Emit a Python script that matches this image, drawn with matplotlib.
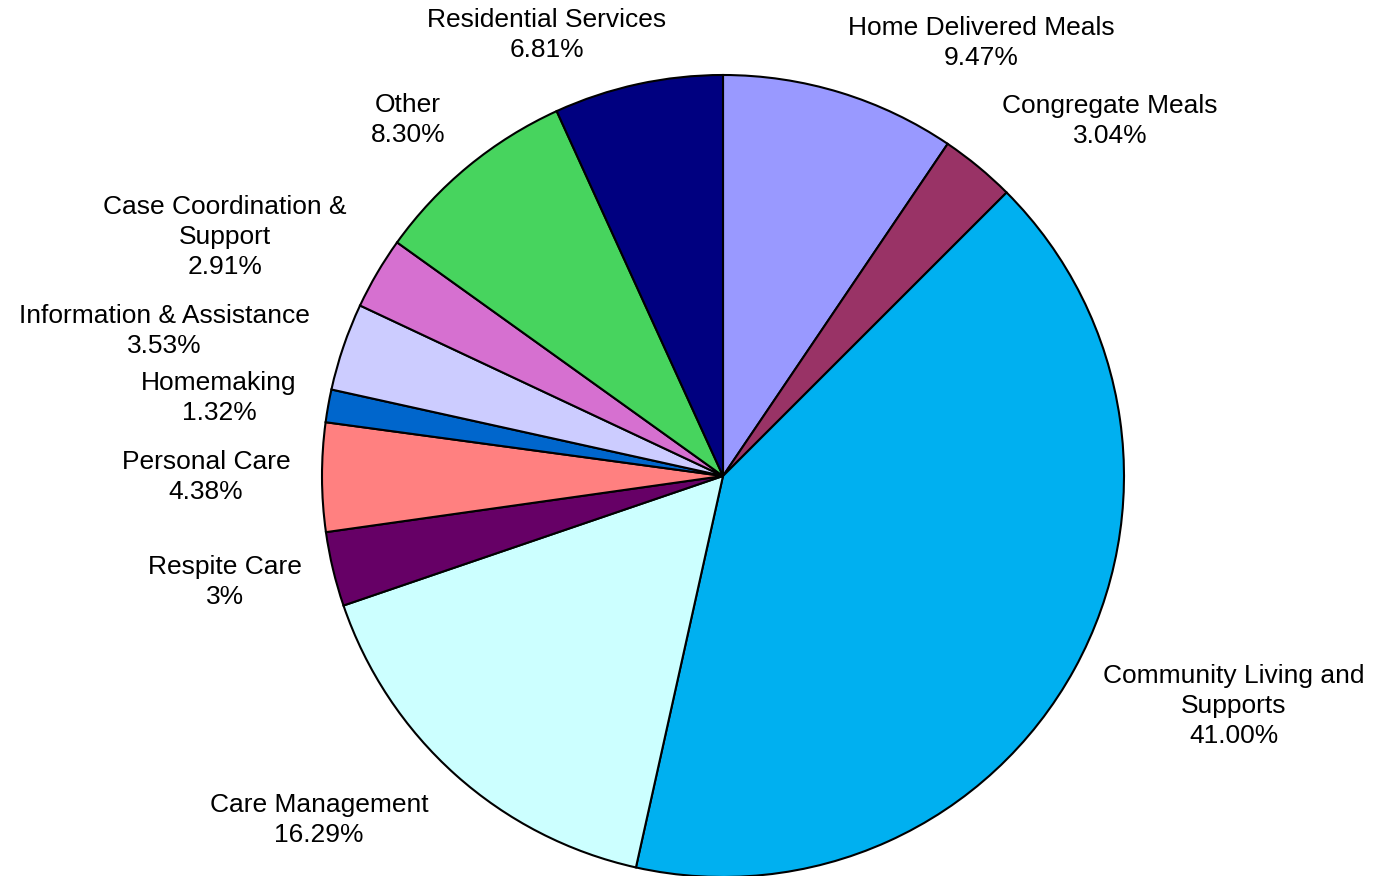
import numpy as np
import matplotlib
matplotlib.use('Agg')
import matplotlib.pyplot as plt

plt.rcParams['font.family'] = ['Liberation Sans', 'DejaVu Sans']

#Slices, clockwise from 12 o'clock
categories = ['Home Delivered Meals', 'Congregate Meals', 'Community Living and\nSupports',
              'Care Management', 'Respite Care', 'Personal Care', 'Homemaking',
              'Information & Assistance', 'Case Coordination &\nSupport', 'Other',
              'Residential Services']
shares     = [9.47, 3.04, 41.00, 16.29, 3.00, 4.38, 1.32, 3.53, 2.91, 8.30, 6.81]
pct_labels = ['9.47%', '3.04%', '41.00%', '16.29%', '3%', '4.38%', '1.32%',
              '3.53%', '2.91%', '8.30%', '6.81%']

colors = ['#9999FF', '#993366', '#00B0F0', '#CCFFFF', '#660066', '#FF8080',
          '#0066CC', '#CCCCFF', '#D670D0', '#47D45E', '#000080']

#Label placement (in units of the pie radius)
label_pos = [(0.643, 1.080), (0.965, 0.885), (1.274, -0.574), (-1.007, -0.858),
             (-1.242, -0.264), (-1.289, -0.002), (-1.257, 0.195), (-1.394, 0.362),
             (-1.242, 0.596), (-0.786, 0.888), (-0.439, 1.100)]

fig = plt.figure(figsize=(13.76, 8.76), dpi=100)
ax = fig.add_axes([0, 0, 1, 1])

ax.pie(shares, colors=colors, startangle=90, counterclock=False, radius=1.0,
       wedgeprops={'edgecolor': 'black', 'linewidth': 1.5})

for name, pct, (x, y) in zip(categories, pct_labels, label_pos):
    ax.text(x, y, f'{name}\n{pct}', ha='center', va='center', fontsize=19,
            linespacing=1.3, color='black')

ax.set_xlim(-723/401, (1376-723)/401)
ax.set_ylim(-(876-476)/401, 476/401)
ax.set_aspect('auto')
ax.axis('off')

fig.savefig('out.png', dpi=100)
